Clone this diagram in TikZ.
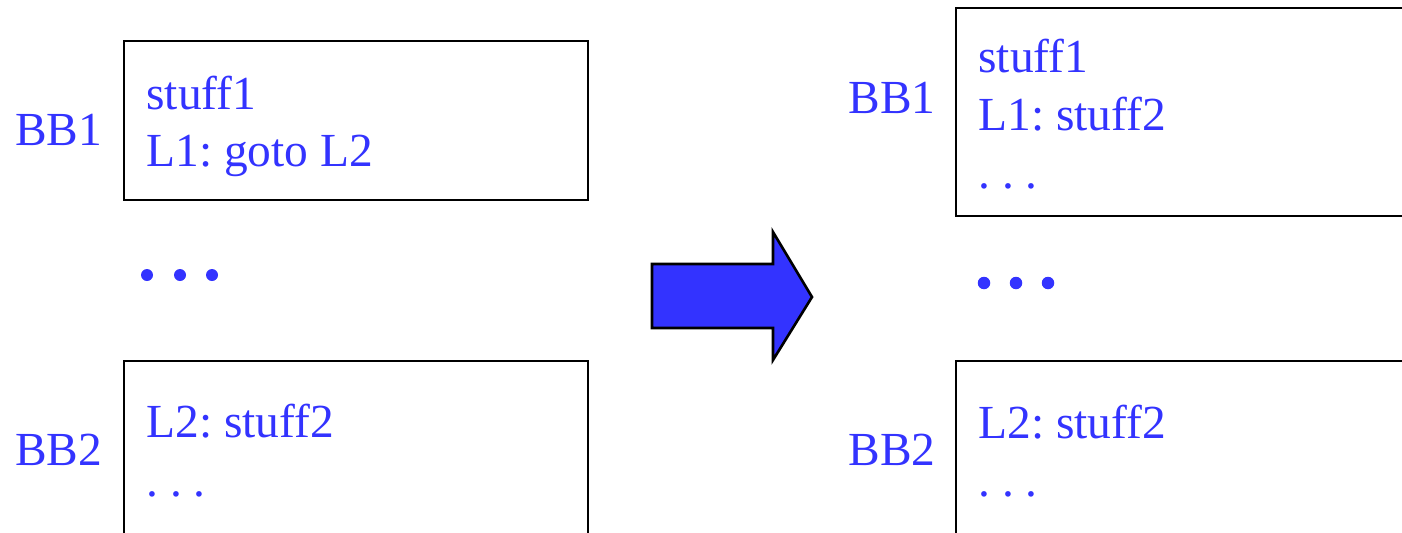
\documentclass[tikz,border=0pt]{standalone}
\usepackage{fontspec}
\setmainfont{Liberation Serif}
\usepackage{tikz}
\usetikzlibrary{calc}
\definecolor{codeblue}{RGB}{51,51,255}
\frenchspacing
\tikzset{
  txt/.style={anchor=base west,inner sep=0pt,text=codeblue,font=\fontsize{27}{32}\selectfont},
  bbox/.style={black,line width=1.5pt},
  bigdot/.style={fill=codeblue},
}

\begin{document}
\begin{tikzpicture}
\path[use as bounding box,clip] (0,0) rectangle (28.04,10.64);
% before: two blocks with a jump
\draw[bbox] (2.48,9.82) rectangle (11.76,6.64);
\draw[bbox] (2.48,3.42) rectangle (11.76,-0.5);
\node[txt] (bbA) at (0.30,7.74) {BB1};
\node[txt] (sA) at (2.92,8.46) {stuff1};
\node[txt] (gA) at (2.92,7.32) {L1: goto L2};
\fill[bigdot] (2.94,5.14) circle (0.12) (3.60,5.14) circle (0.12) (4.24,5.14) circle (0.12);
\node[txt] (bbB) at (0.30,1.34) {BB2};
\node[txt] (lB) at (2.92,1.90) {L2: stuff2};
\node[txt] (dB) at (2.92,0.72) {. . .};
% the big arrow
\draw[line width=1.5pt,fill=codeblue,line join=miter]
  (13.04,5.36) -- (15.46,5.36) -- (15.46,6.00) -- (16.24,4.70)
  -- (15.46,3.44) -- (15.46,4.08) -- (13.04,4.08) -- cycle;
% after: jump removed
\draw[bbox] (19.12,10.48) rectangle (28.6,6.32);
\draw[bbox] (19.12,3.42) rectangle (28.6,-0.5);
\node[txt] (bbC) at (16.96,8.38) {BB1};
\node[txt] (sC) at (19.56,9.20) {stuff1};
\node[txt] (lC) at (19.56,8.04) {L1: stuff2};
\node[txt] (dC) at (19.56,6.88) {. . .};
\fill[bigdot] (19.68,4.98) circle (0.125) (20.32,4.98) circle (0.125) (20.96,4.98) circle (0.125);
\node[txt] (bbD) at (16.96,1.34) {BB2};
\node[txt] (lD) at (19.56,1.88) {L2: stuff2};
\node[txt] (dD) at (19.56,0.72) {. . .};
\end{tikzpicture}
\end{document}
